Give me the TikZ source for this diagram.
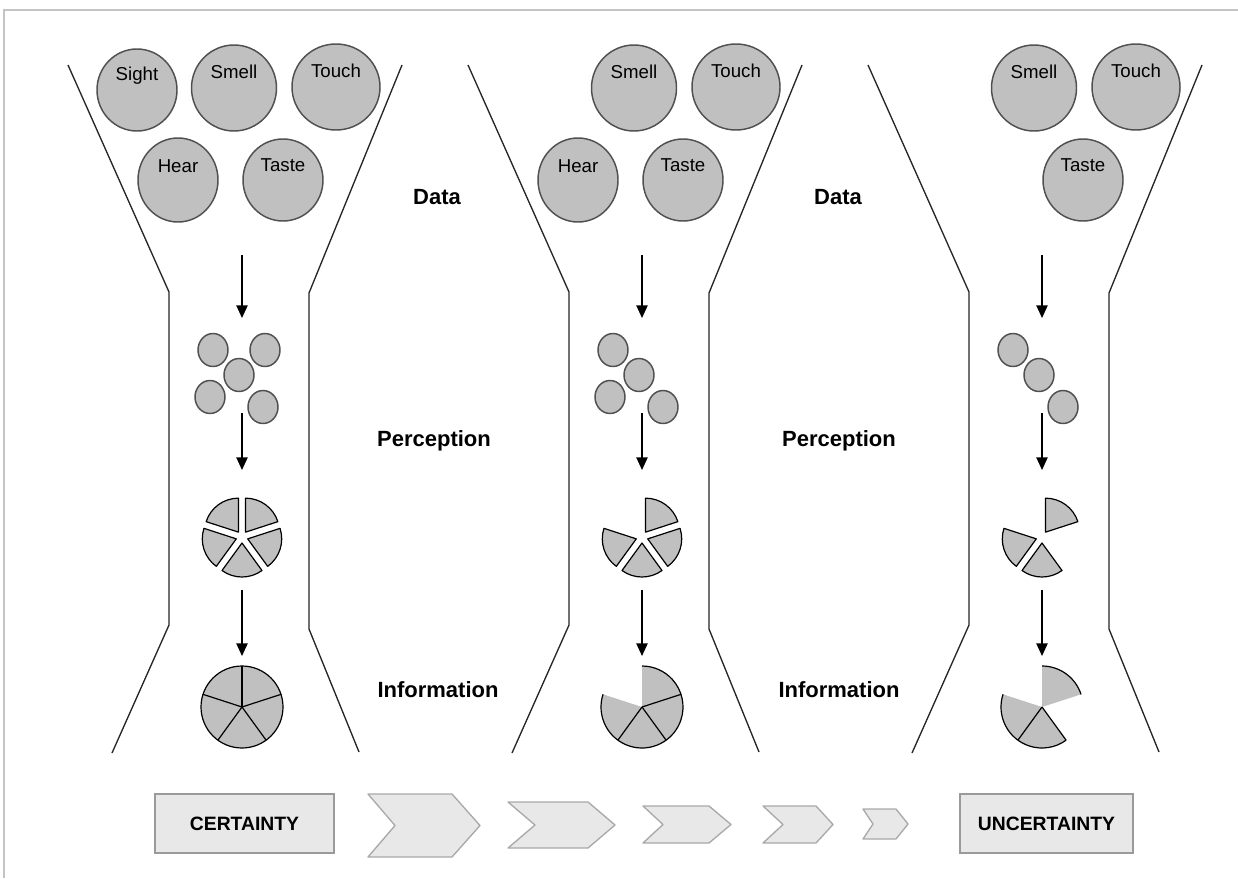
\documentclass[tikz,border=0pt]{standalone}
\usepackage{fontspec}
\setmainfont{Liberation Sans}
\usetikzlibrary{arrows.meta,shapes.geometric}
\definecolor{sensefill}{HTML}{C0C0C0}
\definecolor{senseline}{HTML}{505050}
\definecolor{boxfill}{HTML}{E8E8E8}
\definecolor{boxline}{HTML}{9A9A9A}
\definecolor{frameline}{HTML}{C4C4C4}
\begin{document}
\begin{tikzpicture}[x=0.75pt,y=-0.75pt,
  funnel/.style={draw=black!85,line width=1pt,line join=round},
  bigsense/.style={ellipse,draw=senseline,line width=1.1pt,fill=sensefill,inner sep=0pt},
  senselbl/.style={font=\fontsize{14}{16}\selectfont,inner sep=0pt},
  bit/.style={ellipse,draw=senseline,line width=1.1pt,fill=sensefill,minimum width=22.5pt,minimum height=24.75pt,inner sep=0pt},
  flow/.style={-{Triangle[length=9.5pt,width=8.5pt]},line width=1pt},
  piece/.style={draw=black,line width=0.9pt,fill=sensefill,line join=round},
  piefill/.style={fill=sensefill},
  pieline/.style={draw=black,line width=0.9pt},
  stage/.style={font=\bfseries\fontsize{16.5}{19}\selectfont,inner sep=0pt},
  endbox/.style={draw=boxline,fill=boxfill,line width=1.2pt,minimum height=44.25pt,inner sep=0pt,font=\bfseries\fontsize{14.5}{17}\selectfont},
  chev/.style={draw=boxline!85,fill=boxfill,line width=1pt,line join=round}]
\useasboundingbox (0,0) rectangle (1238,878);
\fill[white] (0,0) rectangle (1238,878);
\draw[frameline,line width=1.5pt] (4,878) -- (4,10) -- (1238,10);

% ================= Funnel 1 =================
\draw[funnel] (68,65) -- (169,292) -- (169,625) -- (112,753);
\draw[funnel] (402,65) -- (309,293) -- (309,629) -- (359,752);
\node[bigsense,minimum width=60pt,minimum height=61.5pt] (sightA) at (137,90) {};
\node[bigsense,minimum width=63.75pt,minimum height=64.5pt] (smellA) at (234,88) {};
\node[bigsense,minimum width=66pt,minimum height=64.5pt] (touchA) at (336,87) {};
\node[bigsense,minimum width=60pt,minimum height=63pt] (hearA) at (178,180) {};
\node[bigsense,minimum width=60pt,minimum height=61.5pt] (tasteA) at (283,180) {};
\node[senselbl] (sightAt) at ([yshift=11pt]sightA.center) {Sight};
\node[senselbl] (smellAt) at ([yshift=12pt]smellA.center) {Smell};
\node[senselbl] (touchAt) at ([yshift=12pt]touchA.center) {Touch};
\node[senselbl] (hearAt) at ([yshift=10pt]hearA.center) {Hear};
\node[senselbl] (tasteAt) at ([yshift=11pt]tasteA.center) {Taste};
\node[bit] (bA1) at (213,350) {};
\node[bit] (bA2) at (265,350) {};
\node[bit] (bA3) at (239,375) {};
\node[bit] (bA4) at (210,397) {};
\node[bit] (bA5) at (263,407) {};
\coordinate (epA) at (242,537);
\foreach \a [evaluate=\a as \m using \a+36] in {18,90,162,234,306}
  \filldraw[piece] ([shift={(\m:4.5pt)}]epA) -- +(\a:25.5pt) arc[start angle=\a,delta angle=72,radius=25.5pt] -- cycle;
\coordinate (ipA) at (242,707);
\filldraw[piece] (ipA) circle[radius=30.75pt];
\foreach \a in {90,18,306,234,162} \draw[pieline] (ipA) -- +(\a:30.75pt);
\coordinate (fA1s) at (242,255); \coordinate (fA1e) at (242,318);
\coordinate (fA2s) at (242,413); \coordinate (fA2e) at (242,470);
\coordinate (fA3s) at (242,590); \coordinate (fA3e) at (242,656);
\draw[flow] (fA1s) -- (fA1e);
\draw[flow] (fA2s) -- (fA2e);
\draw[flow] (fA3s) -- (fA3e);

% ================= Funnel 2 =================
\begin{scope}[shift={(400,0)}]
\draw[funnel] (68,65) -- (169,292) -- (169,625) -- (112,753);
\draw[funnel] (402,65) -- (309,293) -- (309,629) -- (359,752);
\node[bigsense,minimum width=63.75pt,minimum height=64.5pt] (smellB) at (234,88) {};
\node[bigsense,minimum width=66pt,minimum height=64.5pt] (touchB) at (336,87) {};
\node[bigsense,minimum width=60pt,minimum height=63pt] (hearB) at (178,180) {};
\node[bigsense,minimum width=60pt,minimum height=61.5pt] (tasteB) at (283,180) {};
\node[senselbl] (smellBt) at ([yshift=12pt]smellB.center) {Smell};
\node[senselbl] (touchBt) at ([yshift=12pt]touchB.center) {Touch};
\node[senselbl] (hearBt) at ([yshift=10pt]hearB.center) {Hear};
\node[senselbl] (tasteBt) at ([yshift=11pt]tasteB.center) {Taste};
\node[bit] (bB1) at (213,350) {};
\node[bit] (bB3) at (239,375) {};
\node[bit] (bB4) at (210,397) {};
\node[bit] (bB5) at (263,407) {};
\coordinate (epB) at (242,537);
\foreach \a [evaluate=\a as \m using \a+36] in {18,162,234,306}
  \filldraw[piece] ([shift={(\m:4.5pt)}]epB) -- +(\a:25.5pt) arc[start angle=\a,delta angle=72,radius=25.5pt] -- cycle;
\coordinate (ipB) at (242,707);
\fill[piefill] (ipB) -- +(162:30.75pt) arc[start angle=162,delta angle=288,radius=30.75pt] -- cycle;
\draw[pieline] ([shift={(162:30.75pt)}]ipB) arc[start angle=162,delta angle=288,radius=30.75pt];
\foreach \a in {18,306,234} \draw[pieline] (ipB) -- +(\a:30.75pt);
\coordinate (fB1s) at (242,255); \coordinate (fB1e) at (242,318);
\coordinate (fB2s) at (242,413); \coordinate (fB2e) at (242,470);
\coordinate (fB3s) at (242,590); \coordinate (fB3e) at (242,656);
\draw[flow] (fB1s) -- (fB1e);
\draw[flow] (fB2s) -- (fB2e);
\draw[flow] (fB3s) -- (fB3e);
\end{scope}

% ================= Funnel 3 =================
\begin{scope}[shift={(800,0)}]
\draw[funnel] (68,65) -- (169,292) -- (169,625) -- (112,753);
\draw[funnel] (402,65) -- (309,293) -- (309,629) -- (359,752);
\node[bigsense,minimum width=63.75pt,minimum height=64.5pt] (smellC) at (234,88) {};
\node[bigsense,minimum width=66pt,minimum height=64.5pt] (touchC) at (336,87) {};
\node[bigsense,minimum width=60pt,minimum height=61.5pt] (tasteC) at (283,180) {};
\node[senselbl] (smellCt) at ([yshift=12pt]smellC.center) {Smell};
\node[senselbl] (touchCt) at ([yshift=12pt]touchC.center) {Touch};
\node[senselbl] (tasteCt) at ([yshift=11pt]tasteC.center) {Taste};
\node[bit] (bC1) at (213,350) {};
\node[bit] (bC3) at (239,375) {};
\node[bit] (bC5) at (263,407) {};
\coordinate (epC) at (242,537);
\foreach \a [evaluate=\a as \m using \a+36] in {18,162,234}
  \filldraw[piece] ([shift={(\m:4.5pt)}]epC) -- +(\a:25.5pt) arc[start angle=\a,delta angle=72,radius=25.5pt] -- cycle;
\coordinate (ipC) at (242,707);
\fill[piefill] (ipC) -- +(18:30.75pt) arc[start angle=18,delta angle=72,radius=30.75pt] -- cycle;
\fill[piefill] (ipC) -- +(162:30.75pt) arc[start angle=162,delta angle=144,radius=30.75pt] -- cycle;
\draw[pieline] ([shift={(18:30.75pt)}]ipC) arc[start angle=18,delta angle=72,radius=30.75pt];
\draw[pieline] ([shift={(162:30.75pt)}]ipC) arc[start angle=162,delta angle=144,radius=30.75pt];
\foreach \a in {306,234} \draw[pieline] (ipC) -- +(\a:30.75pt);
\coordinate (fC1s) at (242,255); \coordinate (fC1e) at (242,318);
\coordinate (fC2s) at (242,413); \coordinate (fC2e) at (242,470);
\coordinate (fC3s) at (242,590); \coordinate (fC3e) at (242,656);
\draw[flow] (fC1s) -- (fC1e);
\draw[flow] (fC2s) -- (fC2e);
\draw[flow] (fC3s) -- (fC3e);
\end{scope}

% ================= Stage labels =================
\node[stage] (data1) at (437,197) {Data};
\node[stage] (perc1) at (434,441) {Perception};
\node[stage] (info1) at (438,690) {Information};
\node[stage] (data2) at (838,197) {Data};
\node[stage] (perc2) at (839,441) {Perception};
\node[stage] (info2) at (839,690) {Information};

% ================= Bottom scale =================
\node[endbox,minimum width=134.25pt] (cert) at (244.5,823.5) {CERTAINTY};
\node[endbox,minimum width=129.75pt] (uncert) at (1046.5,823.5) {UNCERTAINTY};
\draw[chev] (368,794) -- (452,794) -- (480,825.5) -- (452,857) -- (368,857) -- (395,825.5) -- cycle;
\draw[chev] (508,802) -- (588,802) -- (615,825) -- (588,848) -- (508,848) -- (535,825) -- cycle;
\draw[chev] (643,806) -- (709,806) -- (731,824.5) -- (709,843) -- (643,843) -- (663,824.5) -- cycle;
\draw[chev] (763,806) -- (816,806) -- (833,824.5) -- (816,843) -- (763,843) -- (783,824.5) -- cycle;
\draw[chev] (863,809) -- (896,809) -- (908,824) -- (896,839) -- (863,839) -- (873,824) -- cycle;
\end{tikzpicture}
\end{document}
